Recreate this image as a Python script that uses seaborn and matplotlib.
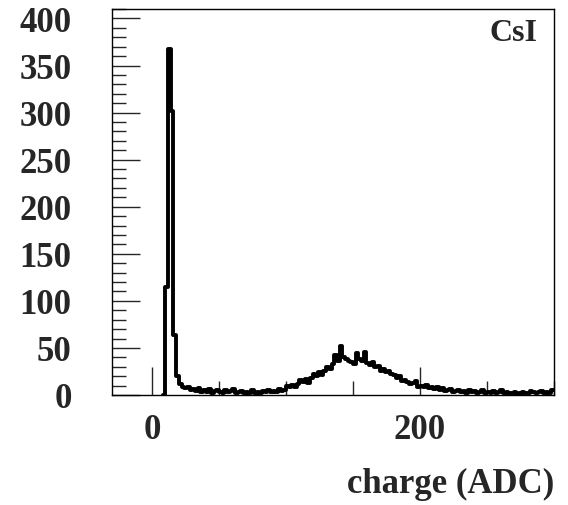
import numpy as np
import pandas as pd
import matplotlib
matplotlib.use("Agg")
import matplotlib.pyplot as plt
import seaborn as sns
from matplotlib.ticker import MultipleLocator

# bin edges of the charge histogram (ADC), 2 ADC per bin
bin_lo = 8
bin_hi = 300
bin_width = 2

# counts per bin, from 8 ADC up to 300 ADC (nothing below the pedestal peak)
counts = [
    0,                          # 8-10
    115, 367, 302, 64, 20,      # 10-20
    12, 9, 7, 8, 5,             # 20-30
    6, 4, 7, 3, 5,              # 30-40
    3, 6, 2, 4, 5,              # 40-50
    3, 2, 5, 3, 4,              # 50-60
    6, 2, 3, 4, 2,              # 60-70
    3, 2, 5, 2, 3,              # 70-80
    2, 4, 3, 5, 3,              # 80-90
    4, 3, 6, 4, 5,              # 90-100
    10, 8, 11, 9, 12,           # 100-110
    16, 14, 17, 13, 18,         # 110-120
    22, 20, 24, 21, 26,         # 120-130
    30, 28, 33, 42, 36,         # 130-140
    52, 40, 38, 36, 35,         # 140-150
    33, 45, 38, 36, 46,         # 150-160
    34, 32, 35, 30, 31,         # 160-170
    26, 28, 24, 25, 22,         # 170-180
    21, 18, 20, 15, 16,         # 180-190
    14, 12, 13, 15, 9,          # 190-200
    10, 8, 11, 7, 9,            # 200-210
    6, 8, 5, 7, 4,              # 210-220
    5, 6, 3, 4, 5,              # 220-230
    3, 4, 2, 5, 3,              # 230-240
    4, 2, 3, 5, 2,              # 240-250
    3, 2, 4, 2, 3,              # 250-260
    5, 2, 3, 2, 2,              # 260-270
    3, 1, 2, 3, 2,              # 270-280
    2, 4, 3, 2, 3,              # 280-290
    4, 2, 3, 2, 5,              # 290-300
]

edges = np.arange(bin_lo, bin_hi + bin_width, bin_width)
df = pd.DataFrame({"adc": edges[:-1] + bin_width / 2, "n": counts})

sns.set_style("ticks")
plt.rcParams["font.family"] = ["Liberation Serif", "DejaVu Serif"]
plt.rcParams["font.weight"] = "bold"

fig = plt.figure(figsize=(5.68, 5.06), dpi=100)
ax = fig.add_axes([0.197, 0.2174, 0.778, 0.7628])

sns.histplot(data=df, x="adc", weights="n", binwidth=bin_width,
             binrange=(bin_lo, bin_hi), element="step",
             fill=False, color="black", linewidth=2.8, ax=ax)

ax.set_xlim(-30, 300)
ax.set_ylim(0, 410)
ax.xaxis.set_major_locator(MultipleLocator(200))
ax.xaxis.set_minor_locator(MultipleLocator(50))
ax.yaxis.set_major_locator(MultipleLocator(50))
ax.yaxis.set_minor_locator(MultipleLocator(10))

ax.tick_params(which="both", direction="in", top=False, right=False,
               width=1, labelsize=25)
ax.tick_params(which="major", length=20)
ax.tick_params(which="minor", length=10)
ax.tick_params(axis="y", pad=29)
ax.tick_params(axis="x", pad=13)
for lab in ax.get_xticklabels() + ax.get_yticklabels():
    lab.set_fontweight("bold")

for s in ax.spines.values():
    s.set_linewidth(1)
    s.set_color("black")

ax.set_ylabel("")
ax.set_xlabel("charge (ADC)", loc="right", fontsize=25, fontweight="bold",
              labelpad=15)
ax.text(0.962, 0.94, "CsI", transform=ax.transAxes, ha="right", va="center",
        fontsize=23, fontweight="bold")

fig.savefig("out.png", dpi=100, facecolor="white")
